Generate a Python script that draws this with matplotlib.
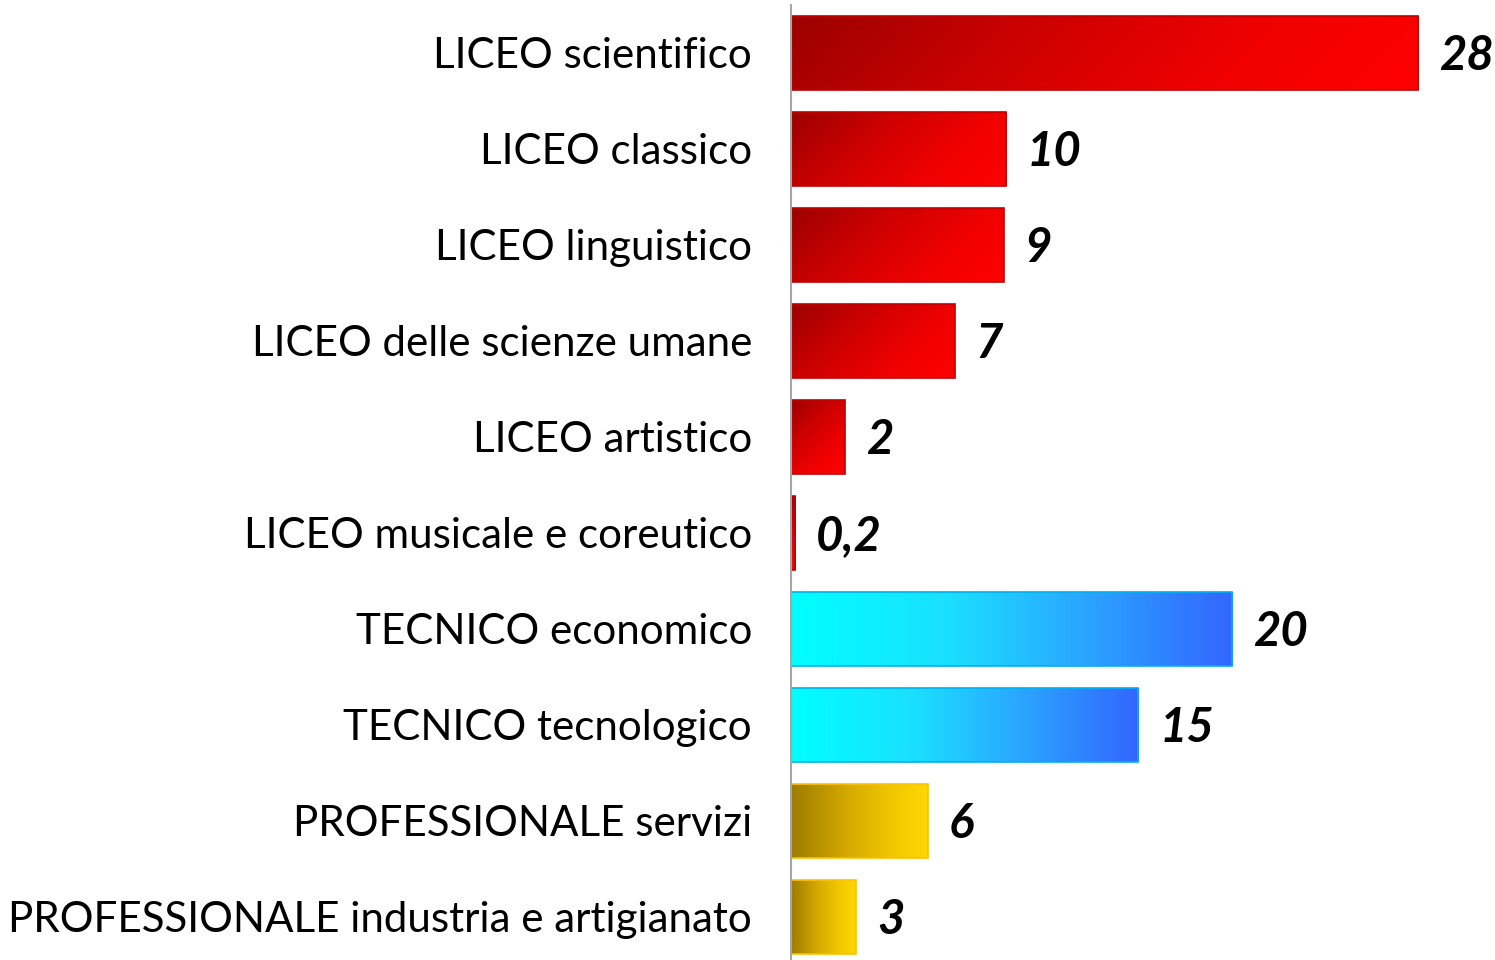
import matplotlib
matplotlib.use("Agg")
import matplotlib.pyplot as plt
import numpy as np
from matplotlib.colors import LinearSegmentedColormap

categories = ["LICEO scientifico", "LICEO classico", "LICEO linguistico",
              "LICEO delle scienze umane", "LICEO artistico",
              "LICEO musicale e coreutico", "TECNICO economico",
              "TECNICO tecnologico", "PROFESSIONALE servizi",
              "PROFESSIONALE industria e artigianato"]
values = [28.0, 9.6, 9.5, 7.3, 2.4, 0.2, 19.7, 15.5, 6.1, 2.9]
value_labels = ["28", "10", "9", "7", "2", "0,2", "20", "15", "6", "3"]
groups = ["liceo"] * 6 + ["tecnico"] * 2 + ["prof"] * 2

# gradient stops per group, edge colour, diagonal gradient or not
styles = {
    "liceo": ([(0, "#9c0000"), (0.35, "#cc0000"), (0.7, "#f00000"), (1, "#ff0000")],
              "#c00000", True),
    "tecnico": ([(0, "#00ffff"), (0.35, "#1ae0ff"), (0.65, "#2aa8ff"), (1, "#3366ff")],
                "#00b0f0", False),
    "prof": ([(0, "#9c7c00"), (0.4, "#d4a800"), (0.75, "#f2c800"), (1, "#ffd700")],
             "#ffc000", False),
}

plt.rcParams['font.family'] = ['Lato', 'DejaVu Sans']

fig = plt.figure(figsize=(14.95, 9.6), dpi=100)
ax = fig.add_axes([791 / 1495, -5 / 960, 704 / 1495, 1.0])

y = np.arange(len(categories))
bar_h = 0.77
xmax = 704 / 22.4
ax.set_xlim(0, xmax)
ax.set_ylim(len(categories) - 0.5, -0.5)

bars = ax.barh(y, values, height=bar_h, facecolor="none", zorder=3)

fig.canvas.draw()
for b, g in zip(bars, groups):
    stops, ec, diag = styles[g]
    b.set_edgecolor(ec)
    b.set_linewidth(1.2)
    x0, y0 = b.get_x(), b.get_y()
    w, h = b.get_width(), b.get_height()
    p0 = ax.transData.transform((x0, y0))
    p1 = ax.transData.transform((x0 + w, y0 + h))
    wpx, hpx = abs(p1[0] - p0[0]), abs(p1[1] - p0[1])
    X, Y = np.meshgrid(np.linspace(0, 1, 200), np.linspace(0, 1, 60))
    if diag:
        t = (X * wpx + Y * hpx) / (wpx + hpx)
    else:
        t = X
    cmap = LinearSegmentedColormap.from_list(g, stops)
    im = ax.imshow(t, cmap=cmap, vmin=0, vmax=1, aspect="auto",
                   extent=(x0, x0 + w, y0 + h, y0), origin="upper",
                   interpolation="bilinear", zorder=2)
    im.set_clip_path(b)

ax.set_xlim(0, xmax)
ax.set_ylim(len(categories) - 0.5, -0.5)

for v, lab, yi in zip(values, value_labels, y):
    ax.annotate(lab, (v, yi), xytext=(15, -2), textcoords="offset points",
                ha="left", va="center", fontsize=34, fontweight="bold",
                fontstyle="italic", color="black")

ax.set_yticks(y)
ax.set_yticklabels(categories, fontsize=30.3)
ax.tick_params(axis="y", length=0, pad=28)
ax.set_xticks([])
for s in ["top", "right", "bottom"]:
    ax.spines[s].set_visible(False)
ax.spines["left"].set_color("#a6a6a6")
ax.spines["left"].set_linewidth(1.5)
ax.spines["left"].set_zorder(4)

fig.savefig("out.png", dpi=100)
